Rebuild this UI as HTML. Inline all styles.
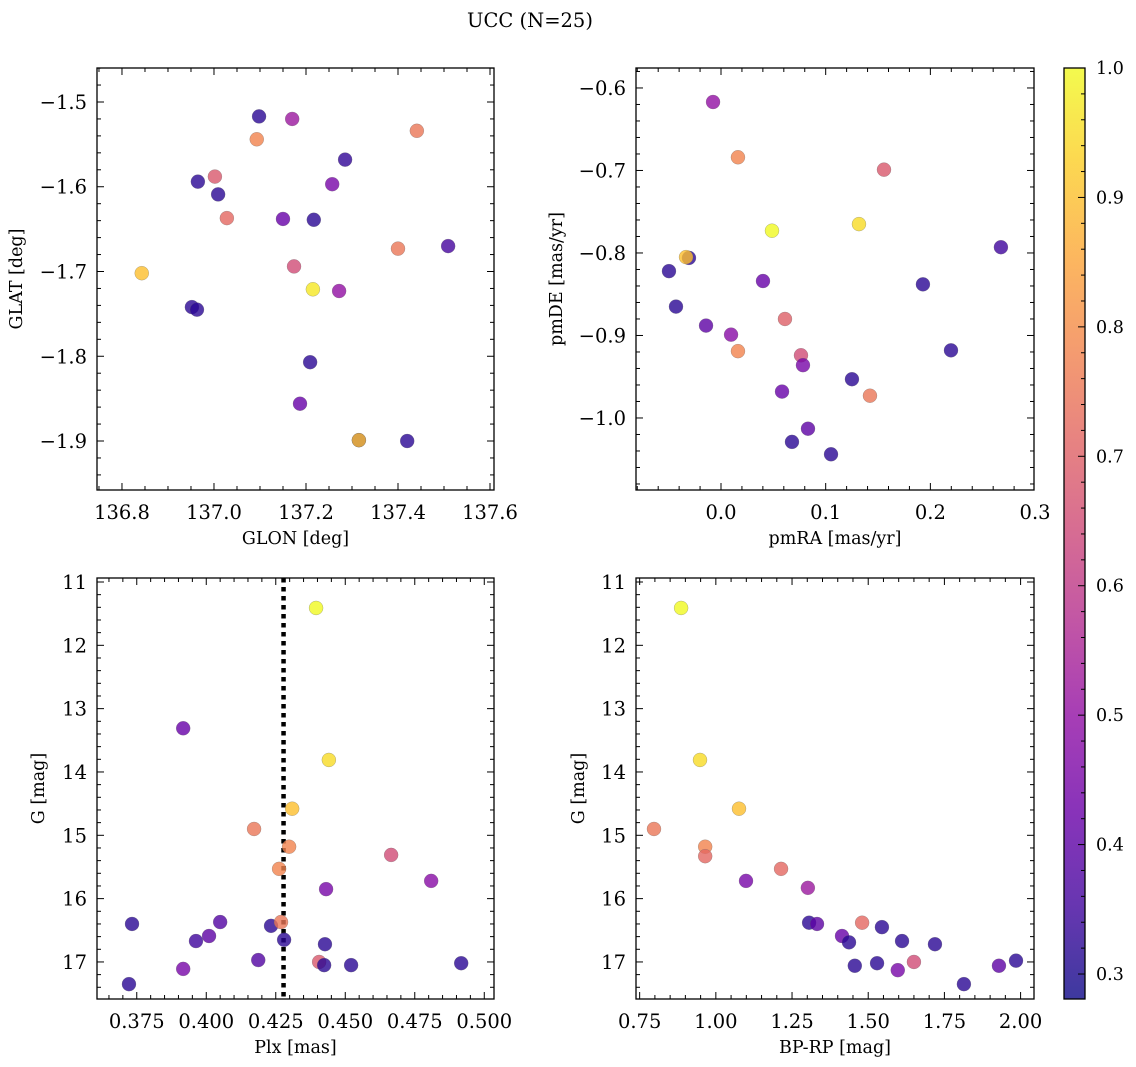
<!DOCTYPE html>
<html><head><meta charset="utf-8">
<style>
html,body{margin:0;padding:0;background:#fff;}
svg{display:block;font-family:"DejaVu Serif","Liberation Serif",serif;}
</style></head>
<body>
<svg id="fig" width="1136" height="1067" viewBox="0 0 1136 1067" xmlns="http://www.w3.org/2000/svg">
<text x="530" y="27" font-size="19.5" text-anchor="middle">UCC (N=25)</text>
</svg>
<script>
// ---- Panel 1: GLON vs GLAT ----
const glonTL=[137.098,137.170,137.093,137.441,137.285,136.965,137.002,137.009,137.257,137.028,137.150,137.217,137.509,137.400,137.174,136.843,137.215,137.272,136.952,136.963,137.209,137.187,137.315,137.315,137.420];
const glatTL=[-1.517,-1.520,-1.544,-1.534,-1.568,-1.594,-1.588,-1.609,-1.597,-1.637,-1.638,-1.639,-1.670,-1.673,-1.694,-1.702,-1.721,-1.723,-1.742,-1.745,-1.807,-1.856,-1.899,-1.899,-1.900];
const probTL=[0.32,0.52,0.78,0.75,0.33,0.32,0.68,0.32,0.45,0.72,0.42,0.32,0.36,0.75,0.65,0.9,0.97,0.5,0.32,0.32,0.32,0.42,0.32,0.9,0.32];
const ticksTLx=[136.8,137.0,137.2,137.4,137.6];
const ticksTLy=[-1.5,-1.6,-1.7,-1.8,-1.9];
// ---- Panel 2: pmRA vs pmDE ----
const pmraTR=[-0.0076,0.0162,0.1557,0.0487,0.1318,-0.0306,-0.0334,-0.0497,0.2674,0.0401,0.1929,-0.043,-0.0143,0.0096,0.0611,0.0162,0.0764,0.0783,0.2197,0.1251,0.1423,0.0583,0.0831,0.0678,0.1051];
const pmdeTR=[-0.617,-0.684,-0.699,-0.773,-0.765,-0.806,-0.805,-0.822,-0.793,-0.834,-0.838,-0.865,-0.888,-0.899,-0.88,-0.919,-0.924,-0.936,-0.918,-0.953,-0.973,-0.968,-1.013,-1.029,-1.044];
const probTR=[0.5,0.78,0.68,1.0,0.95,0.32,0.9,0.32,0.35,0.42,0.32,0.32,0.4,0.48,0.7,0.78,0.65,0.45,0.32,0.32,0.75,0.42,0.4,0.32,0.32];
const ticksTRx=[0.0,0.1,0.2,0.3];
const ticksTRy=[-0.6,-0.7,-0.8,-0.9,-1.0];
// ---- Panel 3: Plx vs G ----
const plxBL=[0.4395,0.3917,0.4441,0.4309,0.4172,0.4298,0.4262,0.4665,0.4809,0.4431,0.3733,0.4050,0.4233,0.4269,0.4010,0.3963,0.4280,0.4427,0.4187,0.4406,0.4424,0.4521,0.4917,0.3917,0.3722];
const gBL=[11.41,13.31,13.81,14.58,14.90,15.18,15.53,15.31,15.72,15.85,16.40,16.37,16.43,16.37,16.59,16.67,16.65,16.72,16.97,17.00,17.05,17.05,17.02,17.11,17.35];
const probBL=[1.0,0.42,0.95,0.9,0.75,0.78,0.78,0.65,0.48,0.45,0.32,0.38,0.32,0.75,0.4,0.35,0.32,0.32,0.38,0.68,0.32,0.32,0.32,0.45,0.32];
const plxMedian=[0.4278];
const ticksBLx=[0.375,0.400,0.425,0.450,0.475,0.500];
const ticksGy=[11,12,13,14,15,16,17];
// ---- Panel 4: BP-RP vs G ----
const bprpBR=[0.886,0.948,1.076,0.797,0.965,0.965,1.214,1.099,1.302,1.306,1.332,1.480,1.545,1.414,1.437,1.611,1.719,1.456,1.529,1.597,1.650,1.814,1.929,1.985];
const gBR=[11.41,13.81,14.58,14.90,15.18,15.33,15.53,15.72,15.83,16.38,16.40,16.38,16.45,16.59,16.69,16.67,16.72,17.06,17.02,17.13,17.00,17.35,17.06,16.98];
const probBR=[1.0,0.95,0.9,0.75,0.78,0.72,0.72,0.45,0.52,0.32,0.4,0.72,0.32,0.42,0.32,0.32,0.32,0.32,0.32,0.45,0.65,0.32,0.4,0.32];
const ticksBRx=[0.75,1.00,1.25,1.50,1.75,2.00];
// ---- colorbar ----
const cbarTicks=[0.3,0.4,0.5,0.6,0.7,0.8,0.9,1.0];
const cbarRange=[0.2807,1.0];

const NS="http://www.w3.org/2000/svg";
const svg=document.getElementById('fig');
function mk(tag,attrs,parent){const e=document.createElementNS(NS,tag);for(const k in attrs)e.setAttribute(k,attrs[k]);(parent||svg).appendChild(e);return e;}
const stops=[[0.0,[13,8,135]],[0.1,[65,4,157]],[0.2,[106,0,168]],[0.3,[143,13,164]],[0.4,[177,42,144]],[0.5,[204,71,120]],[0.6,[225,100,98]],[0.7,[242,132,75]],[0.8,[252,166,54]],[0.9,[252,206,37]],[1.0,[240,249,33]]];
function plasma(t){t=Math.max(0,Math.min(1,t));for(let i=1;i<stops.length;i++){if(t<=stops[i][0]){const a=stops[i-1],b=stops[i];const f=(t-a[0])/(b[0]-a[0]);const c=a[1].map((v,j)=>Math.round(v+(b[1][j]-v)*f));return `rgb(${c[0]},${c[1]},${c[2]})`;}}return 'rgb(240,249,33)';}
function pcol(p){return plasma((p-cbarRange[0])/(cbarRange[1]-cbarRange[0]));}
function fmt(v,d){const s=Math.abs(v).toFixed(d);return (v<0?'\u2212':'')+s;}
const TF=19.5, LF=17.5;

function panel(o){
  const g=mk('g',{});
  
  
  const X=v=>o.x0+(v-o.xd[0])/(o.xd[1]-o.xd[0])*(o.x1-o.x0);
  const Y=v=>o.y0+(v-o.yd[0])/(o.yd[1]-o.yd[0])*(o.y1-o.y0);
  if(o.vline){o.vline.forEach(v=>{const l=mk('line',{x1:X(v),x2:X(v),y1:o.y0,y2:o.y1,stroke:'#000','stroke-width':4.5,'stroke-dasharray':'4.5 4.5'},g);
    
    });}
  for(let i=0;i<o.xs.length;i++){
    const c=mk('circle',{cx:X(o.xs[i]),cy:Y(o.ys[i]),r:7,fill:pcol(o.ps[i]),'fill-opacity':0.8,stroke:'#666','stroke-opacity':0.5,'stroke-width':0.5},g);
    
    
  }
  const fr=mk('rect',{x:o.x0,y:o.y0,width:o.x1-o.x0,height:o.y1-o.y0,fill:'none',stroke:'#000','stroke-width':1.3},g);
  
  
  const xmn=Math.min(...o.xd),xmx=Math.max(...o.xd);
  const nx=Math.ceil(xmn/o.xmin-1e-9);
  for(let k=nx;k*o.xmin<=xmx+1e-9;k++){const v=k*o.xmin,px=X(v);const major=o.xt.some(t=>Math.abs(t-v)<o.xmin/10);const L=major?7:4;
    mk('line',{x1:px,x2:px,y1:o.y1,y2:o.y1-L,stroke:'#000','stroke-width':1},g);
    mk('line',{x1:px,x2:px,y1:o.y0,y2:o.y0+L,stroke:'#000','stroke-width':1},g);}
  o.xt.forEach(v=>{const t=mk('text',{x:X(v),y:o.y1+29,'font-size':TF,'text-anchor':'middle'},g);t.textContent=fmt(v,o.xdec);
    
    });
  const ymn=Math.min(...o.yd),ymx=Math.max(...o.yd);
  const ny=Math.ceil(ymn/o.ymin-1e-9);
  for(let k=ny;k*o.ymin<=ymx+1e-9;k++){const v=k*o.ymin,py=Y(v);const major=o.yt.some(t=>Math.abs(t-v)<o.ymin/10);const L=major?7:4;
    mk('line',{x1:o.x0,x2:o.x0+L,y1:py,y2:py,stroke:'#000','stroke-width':1},g);
    mk('line',{x1:o.x1,x2:o.x1-L,y1:py,y2:py,stroke:'#000','stroke-width':1},g);}
  o.yt.forEach(v=>{const t=mk('text',{x:o.x0-10,y:Y(v)+7,'font-size':TF,'text-anchor':'end'},g);t.textContent=fmt(v,o.ydec);
    
    });
  const xl=mk('text',{x:(o.x0+o.x1)/2,y:o.y1+54,'font-size':LF,'text-anchor':'middle'},g);xl.textContent=o.xlab;
  
  
  const ylx=o.ylabx,yly=(o.y0+o.y1)/2;
  const yl=mk('text',{x:ylx,y:yly,'font-size':LF,'text-anchor':'middle',transform:`rotate(-90 ${ylx} ${yly})`},g);yl.textContent=o.ylab;
  
  
}

panel({name:'glon-glat-panel',x0:97,x1:494,y0:68,y1:490,xd:[136.7457,137.6087],yd:[-1.4599,-1.9578],xs:glonTL,ys:glatTL,ps:probTL,xt:ticksTLx,yt:ticksTLy,xmin:0.05,ymin:0.02,xdec:1,ydec:1,xlab:'GLON [deg]',ylab:'GLAT [deg]',ylabx:22});
panel({name:'pm-panel',x0:636,x1:1034,y0:68,y1:490,xd:[-0.0812,0.299],yd:[-0.5758,-1.0873],xs:pmraTR,ys:pmdeTR,ps:probTR,xt:ticksTRx,yt:ticksTRy,xmin:0.02,ymin:0.02,xdec:1,ydec:1,xlab:'pmRA [mas/yr]',ylab:'pmDE [mas/yr]',ylabx:562});
panel({name:'plx-g-panel',x0:97,x1:494,y0:578,y1:999,xd:[0.3607,0.5035],yd:[10.937,17.585],xs:plxBL,ys:gBL,ps:probBL,xt:ticksBLx,yt:ticksGy,xmin:0.005,ymin:0.2,xdec:3,ydec:0,xlab:'Plx [mas]',ylab:'G [mag]',ylabx:44,vline:plxMedian});
panel({name:'cmd-panel',x0:636,x1:1034,y0:578,y1:999,xd:[0.738,2.044],yd:[10.937,17.585],xs:bprpBR,ys:gBR,ps:probBR,xt:ticksBRx,yt:ticksGy,xmin:0.05,ymin:0.2,xdec:2,ydec:0,xlab:'BP-RP [mag]',ylab:'G [mag]',ylabx:584});

(function(){
  const g=mk('g',{});
  
  
  const x0=1064,x1=1085,y0=68,y1=999;
  const defs=mk('defs',{},g);
  const lg=mk('linearGradient',{id:'cbg',x1:0,y1:1,x2:0,y2:0},defs);
  for(let i=0;i<=20;i++){mk('stop',{offset:(i/20),'stop-color':plasma(i/20)},lg);}
  const r=mk('rect',{x:x0,y:y0,width:x1-x0,height:y1-y0,fill:'url(#cbg)','fill-opacity':0.8,stroke:'#000','stroke-width':1.3},g);
  
  
  const Y=v=>y1-(v-cbarRange[0])/(cbarRange[1]-cbarRange[0])*(y1-y0);
  for(let k=15;k<=50;k++){const v=k*0.02;if(v<cbarRange[0]||v>cbarRange[1]+1e-9)continue;const major=cbarTicks.some(t=>Math.abs(t-v)<0.001);
    mk('line',{x1:x1,x2:x1-(major?7:4),y1:Y(v),y2:Y(v),stroke:'#000','stroke-width':1},g);}
  cbarTicks.forEach(v=>{const t=mk('text',{x:x1+11,y:Y(v)+6,'font-size':17.5},g);t.textContent=v.toFixed(1);
    
    });
})();
</script>
</body></html>
